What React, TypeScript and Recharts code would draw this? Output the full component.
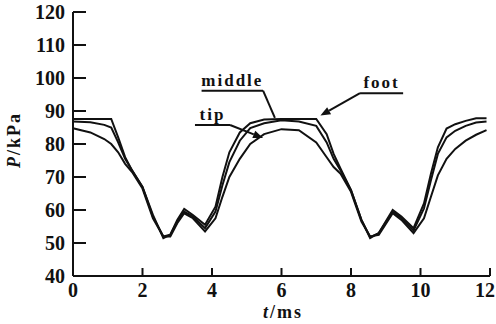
import React from 'react';
import { LineChart, Line, XAxis, YAxis, ReferenceLine } from 'recharts';

const times = [0, 0.5, 0.9, 1.1, 1.3, 1.5, 1.7, 2.0, 2.3, 2.6, 2.8, 3.0, 3.2, 3.45, 3.8, 4.1, 4.3, 4.5, 4.8, 5.1, 5.5, 6.0, 6.5, 7.0, 7.3, 7.5, 7.7, 8.0, 8.3, 8.55, 8.8, 9.2, 9.45, 9.8, 10.1, 10.3, 10.5, 10.75, 11.0, 11.3, 11.6, 11.9];
const foot = [87.6, 87.6, 87.6, 87.6, 82, 76, 72, 67, 58.5, 51.5, 52.5, 57, 60.3, 58.5, 55.5, 61, 70, 77.5, 83.5, 86.3, 87.4, 87.6, 87.6, 87.6, 83, 77, 72.5, 66, 57, 51.5, 53, 60, 58, 54.5, 62, 71, 79, 84.7, 86, 87, 87.8, 87.8];
const middle = [86.8, 86.6, 85.8, 85, 80.5, 75.5, 72, 67, 58, 52, 52.5, 56.5, 59.5, 58, 54.5, 59.5, 67.5, 74.5, 81, 84.8, 86.3, 87.2, 86.8, 85.5, 80.5, 75.5, 72, 66, 57, 51.8, 53, 59.5, 57.5, 53.8, 60.5, 69, 77, 82, 84, 85.5, 86.5, 86.8];
const tip = [84.8, 83.5, 81.5, 80, 77.5, 74, 71.5, 66.5, 57.5, 52, 52, 56, 59, 57.5, 53.5, 57.5, 64, 70, 75.5, 80, 83, 84.5, 84.2, 80.5, 76, 73, 71, 65.5, 56.5, 52, 52.5, 59, 57, 53, 57.5, 64, 70.5, 75.5, 78.5, 81, 82.8, 84.2];

const xTicks = [0, 2, 4, 6, 8, 10, 12];
const yTicks = [40, 50, 60, 70, 80, 90, 100, 110, 120];

const data = times.map((t, i) => ({ t, foot: foot[i], middle: middle[i], tip: tip[i] }));

const FONT = '"Liberation Serif", "Times New Roman", serif';

const underline = (label: string) => (props: any) => {
  const { x1, y1, x2, y2 } = props;
  return (
    <g>
      <line x1={x1} y1={y1} x2={x2} y2={y2} stroke="#111" strokeWidth={2} />
      <text x={(x1 + x2) / 2} y={y1 - 5} textAnchor="middle" fontFamily={FONT} fontWeight="bold" fontSize={17} letterSpacing={2} fill="#111">{label}</text>
    </g>
  );
};

const leader = (arrow: boolean) => (props: any) => {
  const { x1, y1, x2, y2 } = props;
  const dx = x2 - x1, dy = y2 - y1;
  const len = Math.sqrt(dx * dx + dy * dy) || 1;
  const ux = dx / len, uy = dy / len;
  const L = 10, W = 4;
  const bx = x2 - ux * L, by = y2 - uy * L;
  const pts = `${x2},${y2} ${bx - uy * W},${by + ux * W} ${bx + uy * W},${by - ux * W}`;
  return (
    <g>
      <line x1={x1} y1={y1} x2={arrow ? bx : x2} y2={arrow ? by : y2} stroke="#111" strokeWidth={2} />
      {arrow && <polygon points={pts} fill="#111" />}
    </g>
  );
};

const XTick = (props: any) => {
  const { x, y, payload } = props;
  const last = payload.value === 12;
  return (
    <text x={last ? 495 : x} y={y} dy="0.71em" textAnchor={last ? 'end' : 'middle'} fontFamily={FONT} fontWeight="bold" fontSize={20} fill="#111">
      {payload.value}
    </text>
  );
};

const YTitle = () => (
  <text transform="translate(20,140) rotate(-90)" textAnchor="middle" fontFamily={FONT} fontWeight="bold" fontSize={18} letterSpacing={2} fill="#111">
    <tspan fontStyle="italic">P</tspan>/kPa
  </text>
);

const XTitle = () => (
  <text x={283} y={318} textAnchor="middle" fontFamily={FONT} fontWeight="bold" fontSize={18} letterSpacing={2} fill="#111">
    <tspan fontStyle="italic">t</tspan>/ms
  </text>
);

export default function App() {
  const tickStyle = { fontFamily: FONT, fontWeight: 'bold', fontSize: 20, fill: '#111' } as any;
  return (
    <div style={{ position: 'absolute', left: 0, top: 0, background: '#fff' }}>
      <LineChart width={496} height={324} data={data} margin={{ top: 12, right: 6, bottom: 0, left: 0 }}>
        <XAxis
          dataKey="t"
          type="number"
          domain={[0, 12]}
          ticks={xTicks}
          height={48}
          axisLine={{ stroke: '#111', strokeWidth: 2 }}
          tickLine={{ stroke: '#111', strokeWidth: 2 }}
          tickSize={-8}
          tickMargin={15}
          tick={<XTick />}
          interval={0}
          label={{ content: () => <XTitle /> }}
        />
        <YAxis
          type="number"
          domain={[40, 120]}
          ticks={yTicks}
          width={73}
          axisLine={{ stroke: '#111', strokeWidth: 2 }}
          tickLine={{ stroke: '#111', strokeWidth: 2 }}
          tickSize={-13}
          tickMargin={21}
          tick={tickStyle}
          interval={0}
          label={{ content: () => <YTitle /> }}
        />
        <Line type="linear" dataKey="foot" stroke="#111" strokeWidth={2} dot={false} isAnimationActive={false} />
        <Line type="linear" dataKey="middle" stroke="#111" strokeWidth={2} dot={false} isAnimationActive={false} />
        <Line type="linear" dataKey="tip" stroke="#111" strokeWidth={2} dot={false} isAnimationActive={false} />
        <ReferenceLine segment={[{ x: 3.7, y: 96.15 }, { x: 5.47, y: 96.15 }]} shape={underline('middle')} />
        <ReferenceLine segment={[{ x: 5.47, y: 96.15 }, { x: 5.81, y: 87.9 }]} shape={leader(false)} />
        <ReferenceLine segment={[{ x: 8.26, y: 95.4 }, { x: 9.5, y: 95.4 }]} shape={underline('foot')} />
        <ReferenceLine segment={[{ x: 8.26, y: 95.4 }, { x: 7.12, y: 88.6 }]} shape={leader(true)} />
        <ReferenceLine segment={[{ x: 3.51, y: 85.76 }, { x: 4.52, y: 85.76 }]} shape={underline('tip')} />
        <ReferenceLine segment={[{ x: 4.52, y: 85.76 }, { x: 5.47, y: 81.8 }]} shape={leader(true)} />
      </LineChart>
    </div>
  );
}
